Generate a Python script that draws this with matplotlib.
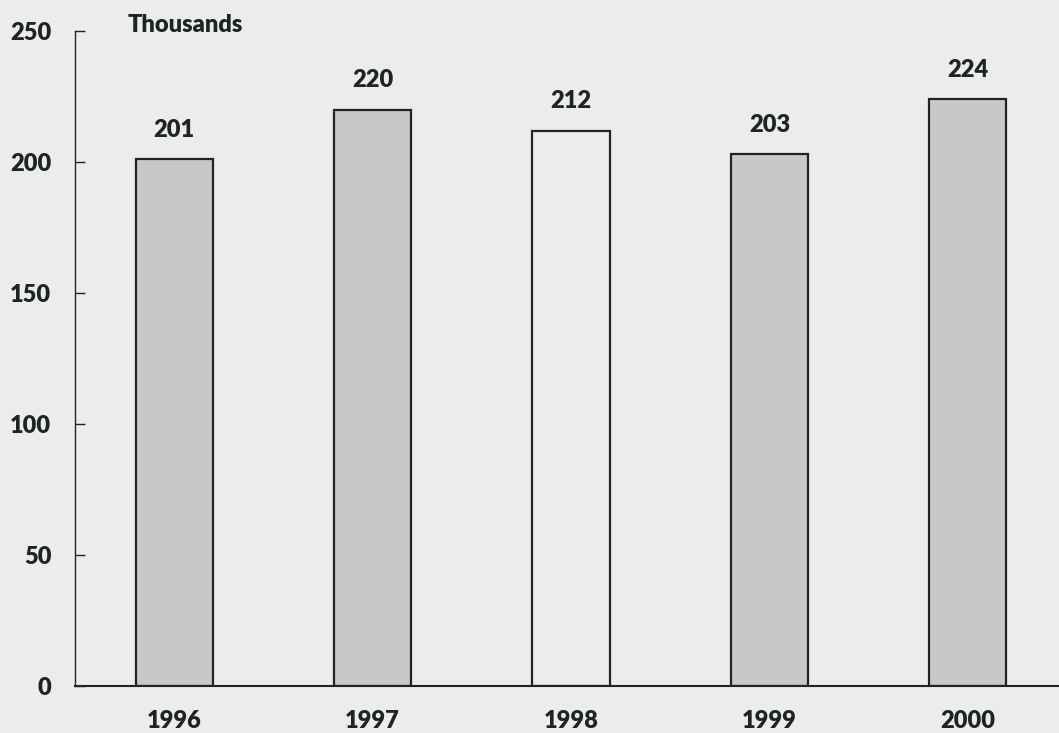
import matplotlib

matplotlib.use("Agg")
import matplotlib.pyplot as plt

years = ["1996", "1997", "1998", "1999", "2000"]
values = [201, 220, 212, 203, 224]
fills = ["#c8c8c8", "#c8c8c8", "#ededed", "#c8c8c8", "#c8c8c8"]
y_ticks = [0, 50, 100, 150, 200, 250]

ink = "#1c261e"
paper = "#ececec"

plt.rcParams["font.family"] = ["Lato", "DejaVu Sans"]
plt.rcParams["font.weight"] = "heavy"

fig = plt.figure(figsize=(10.59, 7.33), dpi=100, facecolor=paper)
ax = fig.add_axes([75 / 1059, 47 / 733, 1 - 75 / 1059, 655 / 733])
ax.set_facecolor(paper)

x = list(range(len(years)))
ax.bar(x, values, width=0.39, color=fills, edgecolor=ink, linewidth=1.6, zorder=2)

# value above each bar
for xi, v in zip(x, values):
    ax.text(xi, v + 7, str(v), ha="center", va="bottom", fontsize=17,
            fontweight="heavy", color=ink)

ax.set_xlim(-0.5, 4.46)
ax.set_ylim(0, 250)
ax.set_yticks(y_ticks)
ax.set_yticklabels([str(t) for t in y_ticks], fontsize=17, fontweight="heavy", color=ink)
ax.set_xticks(x)
ax.set_xticklabels(years, fontsize=17, fontweight="heavy", color=ink)

ax.tick_params(axis="y", direction="in", length=7, width=1.0, color=ink, pad=17)
ax.tick_params(axis="x", length=0, pad=17)

for side in ["top", "right"]:
    ax.spines[side].set_visible(False)
ax.spines["left"].set_color(ink)
ax.spines["left"].set_linewidth(1.0)
ax.spines["bottom"].set_color(ink)
ax.spines["bottom"].set_linewidth(1.5)

fig.text(128 / 1059, 1 - 25 / 733, "Thousands", ha="left", va="center",
         fontsize=17, fontweight="heavy", color=ink)

fig.savefig("out.png", dpi=100, facecolor=paper)
